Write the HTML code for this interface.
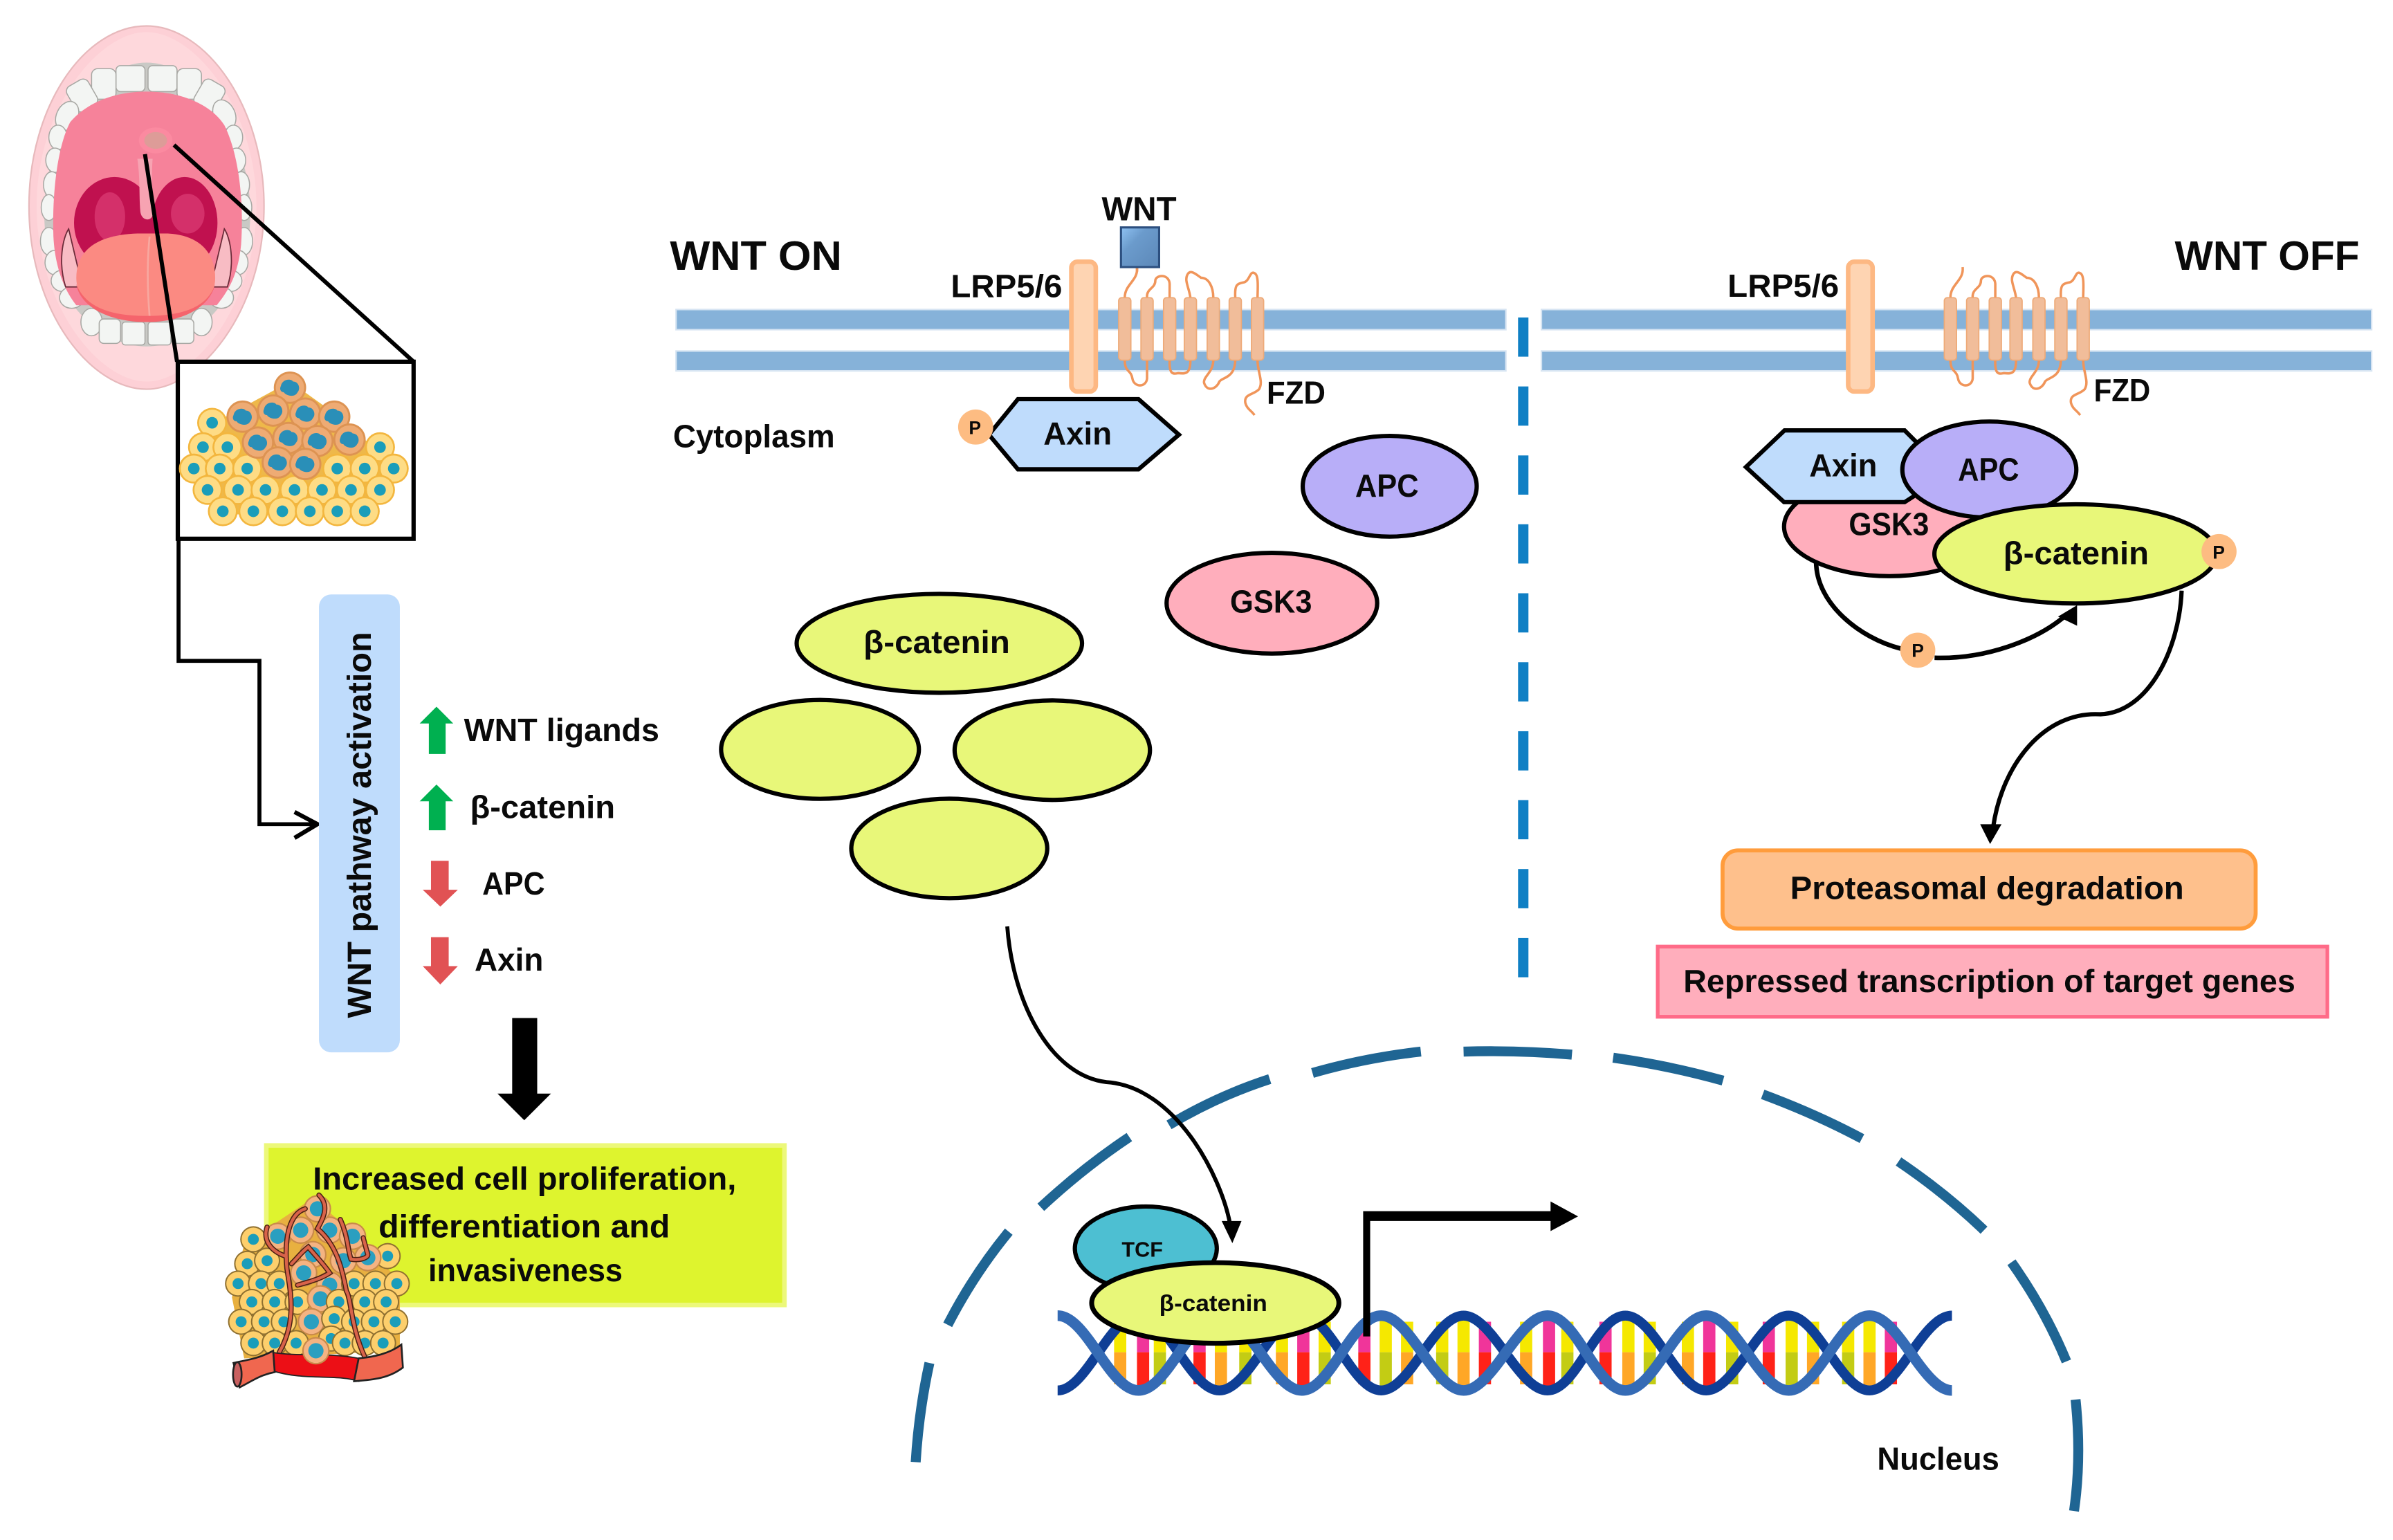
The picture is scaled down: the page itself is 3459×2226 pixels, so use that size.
<!DOCTYPE html>
<html><head><meta charset="utf-8"><title>WNT pathway diagram</title>
<style>
html,body{margin:0;padding:0;background:#fff}
svg{display:block;width:3459px;height:2226px}
text{font-family:"Liberation Sans",sans-serif;font-weight:bold;fill:#0a0a0a;font-size:21px}
.e{stroke:#000;stroke-width:2.8}
.b{fill:#e8f779}
.l{fill:none;stroke:#000;stroke-width:2.6}
.m{fill:#86b2d9;stroke:#d6e4f2;stroke-width:1}
.r{fill:#fed4b2;stroke:#fdb883;stroke-width:3}
.p{fill:#fdbc82}
.f{fill:none;stroke:#f0955a;stroke-width:1.6}
.h{fill:#f1bd9a;stroke:#eeaa78;stroke-width:.8}
.n{fill:none;stroke:#1f6593;stroke-width:6.5}
.t{fill:#f3f5f3;stroke:#a8a8a4;stroke-width:.7}
</style></head><body>
<svg xmlns="http://www.w3.org/2000/svg" viewBox="0 0 1568 1009" preserveAspectRatio="none">
<defs>
<g id="y"><circle r="9.8" fill="#f3b63e"/><circle r="8.6" fill="#fedc85"/><circle r="3.8" fill="#1a9dba"/></g>
<g id="o"><circle r="10.6" fill="#dd9352"/><circle r="9.3" fill="#eeab74"/><path d="M-6,-1 C-5,-6 1,-6 2,-4 C6,-4 7,1 5,3 C3,7 -3,5 -4,3 C-6,3 -7,1 -6,-1Z" fill="#2a8fb8"/></g>
<g id="s"><circle r="8.6" fill="#8f7030"/><circle r="7.7" fill="#fdcf6c"/><circle r="3.6" fill="#1a9dba"/></g>
<g id="u"><circle r="9" fill="#c98a4a"/><circle r="8" fill="#f4b382"/><circle r="5" fill="#2a9fc0"/></g>
<g id="fzd">
<path class="f" d="M1278,195C1278,186 1287,184 1286,175M1292.6,195C1292,189 1298,189 1298,184C1298,180 1307,179 1307.4,186V195M1321,195C1320,188 1317,184 1319,180C1321,176 1325,180 1328,182C1333,182 1336,188 1336,195M1350.4,195C1350,187 1351,186 1356,185C1360,184 1360,177 1363,179C1366,180 1365,190 1365,195M1278,236C1278,244 1282,242 1283,248C1284,254 1292,254 1292.6,248V236M1307.4,236C1307,246 1310,245 1313,244.5C1318,245 1321,245 1321,236M1336,236C1336,244 1329,247 1330,251C1332,257 1338,255 1340,250C1342,247 1350,248 1350.4,236M1365,236C1365,244 1369,250 1366,255C1362,259 1356,258 1357,264C1358,268 1361,269 1363,272"/>
<rect class="h" x="1274" y="195" width="8" height="41" rx="2"/>
<rect class="h" x="1288.6" y="195" width="8" height="41" rx="2"/>
<rect class="h" x="1303.4" y="195" width="8" height="41" rx="2"/>
<rect class="h" x="1317" y="195" width="8" height="41" rx="2"/>
<rect class="h" x="1332" y="195" width="8" height="41" rx="2"/>
<rect class="h" x="1346.4" y="195" width="8" height="41" rx="2"/>
<rect class="h" x="1361" y="195" width="8" height="41" rx="2"/>
</g>
<linearGradient id="wg" x1="0" y1="0" x2="1" y2="1"><stop offset="0" stop-color="#8fc2f2"/><stop offset=".35" stop-color="#6b9bcc"/><stop offset="1" stop-color="#5c88b8"/></linearGradient>
</defs>
<rect width="1568" height="1009" fill="#fff"/>

<!-- Mouth -->
<path d="M96,17C135,17 173,70 173,135C173,205 130,255 96,255C60,255 19,205 19,135C19,70 55,17 96,17Z" fill="#fdd0d6" stroke="#e7b9bc" stroke-width="1"/>
<path d="M96,21C128,21 168,72 168,135C168,198 128,250 96,250C64,250 24,198 24,135C24,72 64,21 96,21Z" fill="#fed8dc"/>
<path d="M96,41C132,41 164,90 164,140C164,190 130,227 96,227C62,227 29,190 29,140C29,90 60,41 96,41Z" fill="#c9c9c5"/>
<g class="t">
<rect x="76" y="43" width="19" height="17" rx="3"/><rect x="97" y="43" width="19" height="17" rx="3"/>
<rect x="60" y="45" width="16" height="20" rx="4"/><rect x="116" y="45" width="16" height="20" rx="4"/>
<rect x="46" y="53" width="16" height="19" rx="4" transform="rotate(-30 54 63)"/><rect x="129" y="53" width="16" height="19" rx="4" transform="rotate(30 137 63)"/>
<ellipse cx="44" cy="76" rx="7" ry="10" transform="rotate(25 44 76)"/><ellipse cx="147" cy="75" rx="7" ry="10" transform="rotate(-25 147 75)"/>
<ellipse cx="38" cy="90" rx="6" ry="8"/><ellipse cx="153" cy="90" rx="6" ry="8"/>
<ellipse cx="36" cy="105" rx="6" ry="8"/><ellipse cx="155" cy="105" rx="6" ry="8"/>
<ellipse cx="34" cy="121" rx="5.5" ry="8.5"/><ellipse cx="158" cy="121" rx="5.5" ry="8.5"/>
<ellipse cx="32" cy="136" rx="5" ry="8.5"/><ellipse cx="160" cy="136" rx="5" ry="8.5"/>
<ellipse cx="32" cy="158" rx="5.5" ry="9"/><ellipse cx="160" cy="158" rx="5.5" ry="9"/>
<ellipse cx="36" cy="172" rx="6.5" ry="8"/><ellipse cx="156" cy="172" rx="6.5" ry="8"/>
<ellipse cx="41" cy="184" rx="7.5" ry="7"/><ellipse cx="151" cy="184" rx="7.5" ry="7"/>
<ellipse cx="47" cy="195" rx="8" ry="7"/><ellipse cx="145" cy="195" rx="8" ry="7"/>
<ellipse cx="60" cy="211" rx="7" ry="9"/><ellipse cx="132" cy="211" rx="7" ry="9"/>
<rect x="65" y="209" width="14" height="16" rx="3"/><rect x="112" y="209" width="15" height="16" rx="3"/>
<rect x="80" y="211" width="15" height="15" rx="2"/><rect x="97" y="211" width="15" height="15" rx="2"/>
</g>
<path d="M96,60C118,60 138,68 147,82C156,100 160,130 158,160C156,180 150,190 142,200L50,200C42,190 36,175 35,155C34,125 38,95 46,80C56,68 74,60 96,60Z" fill="#f6829a"/>
<path d="M43,188C38,172 41,156 45,150L54,188Z" fill="#f8bcc4" stroke="#6a2a38" stroke-width=".8"/>
<path d="M149,188C154,172 151,156 147,150L138,188Z" fill="#f8bcc4" stroke="#6a2a38" stroke-width=".8"/>
<ellipse cx="75" cy="146" rx="26.5" ry="30" fill="#c0114f"/>
<ellipse cx="121" cy="146" rx="21.5" ry="30" fill="#c0114f"/>
<ellipse cx="72" cy="142" rx="10" ry="16" fill="#d4306a"/><ellipse cx="123" cy="140" rx="11" ry="13" fill="#d4306a"/>
<path d="M90,104C92,118 91,130 92,139C93,145 99,145 100,141C100,130 99,118 100,104Z" fill="#f7a3b2"/>
<path d="M50,182C50,165 62,154 90,153L110,153C130,154 141,165 141,182C141,200 122,208 96,208C70,208 50,200 50,182Z" fill="#fb8a82"/>
<path d="M98,155C96,175 97,195 98,207" stroke="#f8a8a0" stroke-width="1.2" fill="none"/>
<path d="M50,186C52,200 70,211 96,211C122,211 138,200 141,186C136,202 118,207 96,207C74,207 56,202 50,186Z" fill="#f5646c"/>
<ellipse cx="102" cy="92" rx="11" ry="8.5" fill="#fb8aa0"/><ellipse cx="102" cy="92" rx="7.5" ry="5.5" fill="#dd9c98"/>

<!-- Cancer cells inset -->
<path class="l" style="stroke-width:2.7" d="M95,101L116,237M114,95L271,237"/>
<rect x="116.5" y="237" width="154.5" height="116" fill="#fff" stroke="#000" stroke-width="2.8"/>
<path d="M135,280L190,250L232,280L250,300L250,325L235,337L150,337L135,315Z" fill="#eeb84a"/>
<use href="#y" x="139" y="277"/><use href="#y" x="133" y="293"/><use href="#y" x="149" y="293"/><use href="#y" x="249" y="293"/>
<use href="#y" x="127" y="307"/><use href="#y" x="144" y="307"/><use href="#y" x="162" y="307"/><use href="#y" x="221" y="307"/><use href="#y" x="239" y="307"/><use href="#y" x="258" y="307"/>
<use href="#y" x="136" y="321"/><use href="#y" x="156" y="321"/><use href="#y" x="174" y="321"/><use href="#y" x="193" y="321"/><use href="#y" x="211" y="321"/><use href="#y" x="230" y="321"/><use href="#y" x="249" y="321"/>
<use href="#y" x="146" y="335"/><use href="#y" x="166" y="335"/><use href="#y" x="185" y="335"/><use href="#y" x="203" y="335"/><use href="#y" x="221" y="335"/><use href="#y" x="239" y="335"/>
<use href="#o" x="190" y="254"/><use href="#o" x="159" y="273"/><use href="#o" x="179" y="269"/><use href="#o" x="200" y="271"/><use href="#o" x="219" y="273"/>
<use href="#o" x="169" y="290"/><use href="#o" x="189" y="287"/><use href="#o" x="208" y="289"/><use href="#o" x="229" y="288"/><use href="#o" x="182" y="303"/><use href="#o" x="200" y="304"/>

<!-- Connector to WNT box -->
<path class="l" style="stroke-width:2.6" d="M117,353V433H170V540H207"/>
<path class="l" style="stroke-width:2.8" d="M193,532L208,540L193,549"/>

<!-- WNT pathway activation -->
<rect x="209" y="389.5" width="53" height="300" rx="8" fill="#bfdcfc"/>
<text transform="translate(243,667) rotate(-90)" font-size="22" textLength="253" lengthAdjust="spacingAndGlyphs" style="font-size:22px">WNT pathway activation</text>
<path fill="#00b050" d="M286,463L297,474H292V494H281V474H275Z"/>
<path fill="#00b050" d="M286,514L297,525H292V544H281V525H275Z"/>
<path fill="#e15254" d="M282.4,564H294V583H300L288.5,594L277,583H282.4Z"/>
<path fill="#e15254" d="M282.4,614H294V633H300L288.5,645L277,633H282.4Z"/>
<text x="304" y="485.5" textLength="128" lengthAdjust="spacingAndGlyphs">WNT ligands</text>
<text x="308" y="536" textLength="95" lengthAdjust="spacingAndGlyphs">β-catenin</text>
<text x="316" y="586" textLength="41" lengthAdjust="spacingAndGlyphs">APC</text>
<text x="311" y="636" textLength="45" lengthAdjust="spacingAndGlyphs">Axin</text>
<path fill="#000" d="M335.6,667H352V716.5H361L343.5,734L326,716.5H335.6Z"/>

<!-- Green box -->
<rect x="174.5" y="750.5" width="339.5" height="104.5" fill="#def42e" stroke="#ecf87a" stroke-width="3"/>
<text x="205" y="779.5" textLength="277.5" lengthAdjust="spacingAndGlyphs">Increased cell proliferation,</text>
<text x="248" y="810.6" textLength="191" lengthAdjust="spacingAndGlyphs">differentiation and</text>
<text x="280.6" y="839.4" textLength="127.4" lengthAdjust="spacingAndGlyphs">invasiveness</text>

<!-- Tumour with vessels -->
<path d="M160,815L205,785L240,815L262,840L262,885L160,890L152,850Z" fill="#e8b040"/>
<use href="#s" x="166" y="812"/><use href="#u" x="182" y="810"/><use href="#u" x="197" y="806"/><use href="#u" x="216" y="806"/><use href="#u" x="231" y="810"/><use href="#u" x="208" y="792"/>
<use href="#s" x="162" y="828"/><use href="#s" x="175" y="826"/><use href="#s" x="254" y="823"/><use href="#u" x="241" y="824"/><use href="#u" x="225" y="826"/><use href="#u" x="205" y="822"/>
<use href="#s" x="156" y="841"/><use href="#s" x="171" y="841"/><use href="#s" x="183" y="841"/><use href="#u" x="199" y="834"/><use href="#u" x="216" y="842"/><use href="#s" x="232" y="841"/><use href="#s" x="246" y="841"/><use href="#s" x="260" y="841"/>
<use href="#s" x="165" y="853"/><use href="#s" x="180" y="853"/><use href="#s" x="195" y="853"/><use href="#u" x="210" y="851"/><use href="#s" x="222" y="853"/><use href="#s" x="239" y="853"/><use href="#s" x="253" y="853"/>
<use href="#s" x="158" y="866"/><use href="#s" x="173" y="866"/><use href="#s" x="186" y="866"/><use href="#u" x="204" y="866"/><use href="#s" x="219" y="864"/><use href="#s" x="232" y="866"/><use href="#s" x="245" y="866"/><use href="#s" x="259" y="866"/>
<use href="#s" x="166" y="880"/><use href="#s" x="180" y="880"/><use href="#s" x="194" y="880"/><use href="#s" x="217" y="877"/><use href="#s" x="226" y="880"/><use href="#s" x="239" y="880"/><use href="#s" x="251" y="880"/>
<g fill="none" stroke-linecap="round">
<path stroke="#4a2014" stroke-width="3.4" d="M183,886C195,865 190,845 188,831C186,810 190,795 200,792M239,889C230,870 230,850 227,846C224,830 220,815 208,805C212,798 216,790 209,783M187,823C178,820 172,813 175,804M191,828C195,824 198,820 202,817C206,822 212,828 216,834C210,838 202,840 195,842M223,799C228,810 228,820 230,825C236,826 241,824 241,822L238,811"/>
<path stroke="#d8634a" stroke-width="2" d="M183,886C195,865 190,845 188,831C186,810 190,795 200,792M239,889C230,870 230,850 227,846C224,830 220,815 208,805C212,798 216,790 209,783M187,823C178,820 172,813 175,804M191,828C195,824 198,820 202,817C206,822 212,828 216,834C210,838 202,840 195,842M223,799C228,810 228,820 230,825C236,826 241,824 241,822L238,811"/>
</g>
<path d="M178,886C195,889 215,886 235,890L235,905C220,900 200,905 178,898Z" fill="#ec0f16" stroke="#222" stroke-width=".8"/>
<path d="M153,893C162,891 170,890 179,885L180,899C170,901 165,905 157,909Z" fill="#f0674f" stroke="#222" stroke-width="1.2"/>
<ellipse cx="155.5" cy="900.5" rx="2.8" ry="8" fill="#c86060" stroke="#222" stroke-width="1.2"/>
<path d="M235,890C245,889 255,887 263,881L264,896C255,903 245,904 232,905Z" fill="#f0674f" stroke="#222" stroke-width="1.2"/>
<use href="#u" x="207" y="885"/>

<!-- Headings -->
<text x="439" y="176.8" textLength="112.6" lengthAdjust="spacingAndGlyphs" style="font-size:27px">WNT ON</text>
<text x="1425" y="176.8" textLength="121" lengthAdjust="spacingAndGlyphs" style="font-size:27px">WNT OFF</text>

<!-- Membranes -->
<rect class="m" x="443" y="202.8" width="543.7" height="13.2"/><rect class="m" x="443" y="230" width="543.7" height="13"/>
<rect class="m" x="1010" y="202.8" width="544" height="13.2"/><rect class="m" x="1010" y="230" width="544" height="13"/>
<rect class="r" x="702" y="171.5" width="16" height="85" rx="4"/>
<rect class="r" x="1211" y="171.5" width="16" height="85" rx="4"/>
<use href="#fzd" transform="translate(-541,0)"/>
<use href="#fzd"/>
<path class="f" d="M745,175V178"/>
<rect x="734.5" y="149" width="25" height="26" fill="url(#wg)" stroke="#2c4f7f" stroke-width="1.4"/>
<text x="721.9" y="144.3" textLength="49" lengthAdjust="spacingAndGlyphs" style="font-size:22px">WNT</text>
<text x="623" y="194.6" textLength="73" lengthAdjust="spacingAndGlyphs">LRP5/6</text>
<text x="830" y="264.4" textLength="38.5" lengthAdjust="spacingAndGlyphs">FZD</text>
<text x="1132" y="194.4" textLength="73" lengthAdjust="spacingAndGlyphs">LRP5/6</text>
<text x="1372" y="263" textLength="37" lengthAdjust="spacingAndGlyphs">FZD</text>
<text x="441" y="293" textLength="106" lengthAdjust="spacingAndGlyphs">Cytoplasm</text>

<!-- Dashed divider -->
<g fill="#0f7fc4">
<rect x="994.7" y="208" width="6.8" height="25.7"/><rect x="994.7" y="253.2" width="6.8" height="25.7"/><rect x="994.7" y="298.4" width="6.8" height="25.7"/><rect x="994.7" y="343.5" width="6.8" height="25.7"/><rect x="994.7" y="388.7" width="6.8" height="25.7"/><rect x="994.7" y="433.9" width="6.8" height="25.7"/><rect x="994.7" y="479.1" width="6.8" height="25.7"/><rect x="994.7" y="524.2" width="6.8" height="25.7"/><rect x="994.7" y="569.4" width="6.8" height="25.7"/><rect x="994.7" y="614.6" width="6.8" height="25.7"/>
</g>

<!-- WNT ON cytoplasm -->
<path class="e" fill="#bfdcfc" d="M648,284.8L667,261.5H746L772.5,284.8L746,307.5H667Z"/>
<text x="683.7" y="291.3" textLength="44.8" lengthAdjust="spacingAndGlyphs">Axin</text>
<circle class="p" cx="639.3" cy="279.8" r="11.5"/>
<text x="634.8" y="284.5" style="font-size:12px">P</text>
<ellipse class="e" fill="#b8aef8" cx="910.6" cy="318.6" rx="57" ry="33"/>
<text x="888" y="325.4" textLength="41.6" lengthAdjust="spacingAndGlyphs">APC</text>
<ellipse class="e" fill="#ffaebc" cx="833.4" cy="395.2" rx="69" ry="33"/>
<text x="806" y="401.4" textLength="53.7" lengthAdjust="spacingAndGlyphs">GSK3</text>
<ellipse class="e b" cx="615.5" cy="421.5" rx="93.5" ry="32.4"/>
<text x="565.8" y="427.9" textLength="96" lengthAdjust="spacingAndGlyphs">β-catenin</text>
<ellipse class="e b" cx="537.3" cy="491" rx="64.8" ry="32.4"/>
<ellipse class="e b" cx="689.5" cy="491.5" rx="64" ry="32.6"/>
<ellipse class="e b" cx="622" cy="555.9" rx="64.2" ry="32.6"/>

<!-- WNT OFF complex -->
<path class="l" style="stroke-width:3" d="M1190,368C1190,395 1218,418 1245.6,425M1267.6,431C1300,432 1335,420 1355,402"/>
<path fill="#000" d="M1361,396.5L1361,410L1348.5,404Z"/>
<path class="l" style="stroke-width:2.8" d="M1429.5,387C1428,425 1408,467 1376,468C1340,466 1312,500 1306,542"/>
<path fill="#000" d="M1297.5,540H1311.5L1304,553Z"/>
<circle class="p" cx="1256.6" cy="426" r="11.5"/>
<text x="1252.6" y="430.5" style="font-size:12px">P</text>
<ellipse class="e" fill="#ffaebc" cx="1238" cy="345" rx="69" ry="32.5"/>
<path class="e" fill="#bfdcfc" d="M1144,306L1169.3,282H1248L1262,296V320L1248,329H1169Z"/>
<ellipse class="e" fill="#b8aef8" cx="1303.5" cy="307.7" rx="57" ry="31.5"/>
<text x="1185.5" y="312" textLength="44.5" lengthAdjust="spacingAndGlyphs">Axin</text>
<text x="1283" y="314.7" textLength="40" lengthAdjust="spacingAndGlyphs">APC</text>
<text x="1211.4" y="350.7" textLength="52.6" lengthAdjust="spacingAndGlyphs">GSK3</text>
<ellipse class="e b" cx="1360" cy="362.9" rx="92.5" ry="32.5"/>
<text x="1312.7" y="369.7" textLength="95.3" lengthAdjust="spacingAndGlyphs">β-catenin</text>
<circle class="p" cx="1454" cy="361.4" r="11.5"/>
<text x="1449.8" y="366" style="font-size:12px">P</text>

<!-- Output boxes -->
<rect x="1128.7" y="557.2" width="349.3" height="51.2" rx="10" fill="#fec08c" stroke="#ff9c3c" stroke-width="2.6"/>
<text x="1173" y="589" textLength="258" lengthAdjust="spacingAndGlyphs">Proteasomal degradation</text>
<rect x="1086.2" y="620.2" width="438.8" height="46" fill="#ffaebc" stroke="#ff6b88" stroke-width="2.4"/>
<text x="1103" y="650" textLength="401" lengthAdjust="spacingAndGlyphs">Repressed transcription of target genes</text>

<!-- Nucleus envelope -->
<g class="n">
<path d="M600,958Q602,925 609,893"/>
<path d="M621,868Q638,835 661,807"/>
<path d="M682,791Q710,765 740,745"/>
<path d="M766,737Q798,718 832,707"/>
<path d="M860,703Q895,693 931,689"/>
<path d="M959,689Q995,688 1030,691"/>
<path d="M1057,693Q1093,698 1129,708"/>
<path d="M1155,717Q1190,730 1220,746"/>
<path d="M1244,761Q1275,782 1300,806"/>
<path d="M1318,827Q1340,858 1354,892"/>
<path d="M1360,917Q1364,955 1359,990"/>
</g>

<!-- DNA -->
<g fill="none" stroke-width="8">
<path stroke="#f5e800" d="M800,862V886M908,862V886M959,862V886M1067,862V886M1174,862V886M1225,862V886M734,866V886M760,866V886M816,866V886M840,866V886M868,866V886M922,866V886M945,866V886M1000,866V886M1027,866V886M1081,866V886M1106,866V886M1135,866V886M1188,866V886M1211,866V886"/>
<path stroke="#f0359a" d="M749,862V886M854,862V886M1015,862V886M1120,862V886M786,866V886M894,866V886M973,866V886M1052,866V886M1159,866V886M1239,866V886"/>
<path stroke="#ffa726" d="M800,886V911M959,886V911M1067,886V911M1225,886V911M734,886V907M840,886V907M922,886V907M1000,886V907M1106,886V907M1188,886V907"/>
<path stroke="#ff2218" d="M749,886V911M854,886V911M1015,886V911M1120,886V911M786,886V907M894,886V907M973,886V907M1052,886V907M1159,886V907M1239,886V907"/>
<path stroke="#c3cc14" d="M908,886V911M1174,886V911M760,886V907M816,886V907M868,886V907M945,886V907M1027,886V907M1081,886V907M1135,886V907M1211,886V907"/>
<path stroke="#0f3f96" stroke-width="6.5" d="M693,911C712,911 727,862 746,862C765,862 780,911 799,911C818,911 834,862 853,862C872,862 886,911 905,911C924,911 940,862 959,862C978,862 995,911 1014,911C1033,911 1046,862 1065,862C1084,862 1099,911 1118,911C1137,911 1153,862 1172,862C1191,862 1206,911 1225,911C1244,911 1260,862 1279,862"/>
<path stroke="#356bb5" stroke-width="7" d="M693,862C712,862 727,911 746,911C765,911 780,862 799,862C818,862 834,911 853,911C872,911 886,862 905,862C924,862 940,911 959,911C978,911 995,862 1014,862C1033,862 1046,911 1065,911C1084,911 1099,862 1118,862C1137,862 1153,911 1172,911C1191,911 1206,862 1225,862C1244,862 1260,911 1279,911"/>
</g>

<!-- Transcription arrow -->
<path fill="#000" d="M893.2,793.6H1016V787.2L1034,797L1016,806.6V800H897.8V875.6H893.2Z"/>

<!-- TCF / beta-catenin -->
<ellipse class="e" fill="#4dbfd2" cx="750.8" cy="818" rx="46.5" ry="27.5"/>
<text x="735" y="823.5" textLength="27" lengthAdjust="spacingAndGlyphs" style="font-size:14px">TCF</text>
<ellipse class="e b" style="stroke-width:3.2" cx="796.3" cy="853.7" rx="81" ry="26.4"/>
<text x="759.6" y="859" textLength="70.8" lengthAdjust="spacingAndGlyphs" style="font-size:15px">β-catenin</text>

<!-- Curve to nucleus -->
<path class="l" d="M660,607C664,660 690,705 725,709C770,712 800,770 806,802"/>
<path fill="#000" d="M800.5,800H813.5L807.5,814.5Z"/>
<text x="1230" y="963" textLength="80" lengthAdjust="spacingAndGlyphs">Nucleus</text>
</svg>
</body></html>
